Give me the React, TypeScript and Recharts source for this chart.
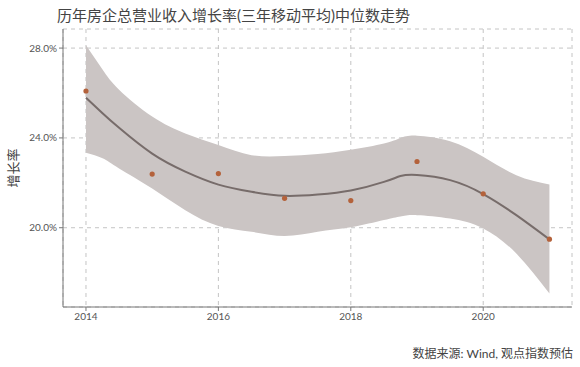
import React from 'react';
import { ComposedChart, Area, Line, Scatter, XAxis, YAxis, CartesianGrid } from 'recharts';

// smoothed trend (loess-like) sampled along the year axis
const fitYears = [2014, 2014.25, 2014.5, 2015, 2015.5, 2016, 2016.5, 2017, 2017.5, 2018, 2018.5, 2018.75, 2019, 2019.5, 2020, 2020.5, 2021];
const fitValues = [25.79, 25.1, 24.45, 23.3, 22.5, 21.92, 21.6, 21.42, 21.48, 21.66, 22.04, 22.3, 22.35, 22.12, 21.5, 20.56, 19.48];
const bandUpper = [28.13, 27.05, 26.15, 24.95, 24.2, 23.68, 23.23, 23.19, 23.28, 23.47, 23.75, 24.0, 24.1, 23.85, 23.16, 22.34, 21.93];
const bandLower = [23.34, 23.09, 22.64, 21.75, 20.78, 20.08, 19.82, 19.63, 19.82, 20.02, 20.34, 20.5, 20.56, 20.41, 19.97, 18.85, 17.07];

// yearly medians
const years = [2014, 2015, 2016, 2017, 2018, 2019, 2020, 2021];
const medians = [26.09, 22.39, 22.41, 21.31, 21.21, 22.95, 21.51, 19.49];

const xTicks = [2014, 2016, 2018, 2020];
const yTicks = [20, 24, 28];

const fitData = fitYears.map((x, i) => ({ x, fit: fitValues[i], band: [bandLower[i], bandUpper[i]] }));
const pointData = years.map((x, i) => ({ x, y: medians[i] }));

const FONT = "Lato, 'Noto Sans CJK SC', sans-serif";
const tickStyle = { fill: '#555', fontSize: 10, fontFamily: FONT };

const Dot = (props: any) => <circle cx={props.cx} cy={props.cy} r={2.6} fill="#b4623b" />;

const App = () => {
  return (
    <div style={{ position: 'absolute', left: 0, top: 0, width: 580, height: 367, background: '#fff', fontFamily: FONT }}>
      <div style={{ position: 'absolute', left: 57, top: 4, fontSize: 15, color: '#444', whiteSpace: 'nowrap' }}>
        历年房企总营业收入增长率(三年移动平均)中位数走势
      </div>
      <div
        style={{
          position: 'absolute', left: 12, top: 168, fontSize: 13, color: '#444', whiteSpace: 'nowrap',
          transform: 'translate(-50%, -50%) rotate(-90deg)',
        }}
      >
        增长率
      </div>
      <div style={{ position: 'absolute', right: 7, top: 344, fontSize: 12, color: '#444', whiteSpace: 'nowrap' }}>
        数据来源: Wind, 观点指数预估
      </div>
      <ComposedChart width={580} height={367} data={fitData} margin={{ top: 29, right: 8, left: 0, bottom: 40 }}>
        <CartesianGrid stroke="#c4c4c4" strokeDasharray="4 4" />
        <XAxis
          type="number"
          dataKey="x"
          domain={[2013.653, 2021.341]}
          ticks={xTicks}
          allowDataOverflow
          height={20}
          tick={tickStyle}
          tickSize={4}
          stroke="#777"
          tickLine={{ stroke: '#777' }}
        />
        <YAxis
          type="number"
          domain={[16.47, 28.85]}
          ticks={yTicks}
          allowDataOverflow
          width={63}
          tick={tickStyle}
          tickSize={4}
          tickFormatter={(v: number) => `${v.toFixed(1)}%`}
          stroke="#777"
          tickLine={{ stroke: '#777' }}
        />
        <Area
          type="natural"
          dataKey="band"
          stroke="none"
          fill="#cbc5c4"
          fillOpacity={1}
          isAnimationActive={false}
          activeDot={false}
        />
        <Line
          type="natural"
          dataKey="fit"
          stroke="#776c6a"
          strokeWidth={2}
          dot={false}
          activeDot={false}
          isAnimationActive={false}
        />
        <Scatter data={pointData} dataKey="y" shape={Dot} isAnimationActive={false} />
      </ComposedChart>
    </div>
  );
};

export default App;
